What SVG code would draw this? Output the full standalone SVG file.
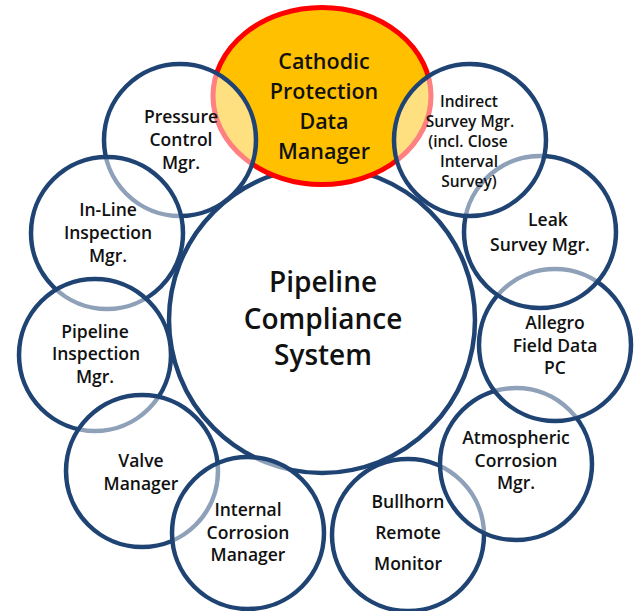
<svg xmlns="http://www.w3.org/2000/svg" width="636" height="611" viewBox="0 0 636 611">
<style>
.sat{fill:#FFFFFF;fill-opacity:0.5;stroke:#1F4373;stroke-width:4.5}
.hub{fill:#FFFFFF;stroke:#1F4373;stroke-width:4.5}
.cp{fill:#FFC000;stroke:#FF0000;stroke-width:5}
text{font-family:"Open Sans","DejaVu Sans",sans-serif;font-weight:600;fill:#111111;text-anchor:middle}
.s{font-size:17.5px}
.si{font-size:15.5px}
.c{font-size:21.5px}
.h{font-size:28px}
</style>
<rect width="636" height="611" fill="#FFFFFF"/>
<g id="pipeline-compliance-system">
<circle class="hub" cx="322" cy="320" r="153"/>
<text class="h" x="323" y="292">Pipeline</text>
<text class="h" x="323" y="328.5">Compliance</text>
<text class="h" x="323" y="365">System</text>
</g>
<g id="cathodic-protection">
<ellipse class="cp" cx="322" cy="96" rx="109" ry="88.5"/>
<text class="c" x="324" y="69">Cathodic</text>
<text class="c" x="324" y="99">Protection</text>
<text class="c" x="324" y="129">Data</text>
<text class="c" x="324" y="159">Manager</text>
</g>
<g id="bullhorn">
<circle class="sat" cx="408" cy="535" r="76"/>
<text class="s" x="408" y="508">Bullhorn</text>
<text class="s" x="408" y="539">Remote</text>
<text class="s" x="408" y="570">Monitor</text>
</g>
<g id="atmospheric-corrosion">
<circle class="sat" cx="516" cy="464" r="76"/>
<text class="s" x="516" y="444">Atmospheric</text>
<text class="s" x="516" y="467">Corrosion</text>
<text class="s" x="516" y="489">Mgr.</text>
</g>
<g id="allegro">
<circle class="sat" cx="555" cy="345" r="76"/>
<text class="s" x="555" y="329">Allegro</text>
<text class="s" x="555" y="352">Field Data</text>
<text class="s" x="555" y="374">PC</text>
</g>
<g id="leak-survey">
<circle class="sat" cx="540" cy="232" r="76"/>
<text class="s" x="548" y="226">Leak</text>
<text class="s" x="540" y="251">Survey Mgr.</text>
</g>
<g id="indirect-survey">
<circle class="sat" cx="470" cy="140" r="76"/>
<text class="si" x="469" y="107">Indirect</text>
<text class="si" x="470" y="127">Survey Mgr.</text>
<text class="si" x="468" y="147">(incl. Close</text>
<text class="si" x="469" y="167">Interval</text>
<text class="si" x="469" y="187">Survey)</text>
</g>
<g id="pressure-control">
<circle class="sat" cx="180" cy="140" r="76"/>
<text class="s" x="181" y="123">Pressure</text>
<text class="s" x="181" y="146">Control</text>
<text class="s" x="181" y="169">Mgr.</text>
</g>
<g id="in-line-inspection">
<circle class="sat" cx="107" cy="233" r="76"/>
<text class="s" x="108" y="216">In-Line</text>
<text class="s" x="108" y="239">Inspection</text>
<text class="s" x="108" y="262">Mgr.</text>
</g>
<g id="pipeline-inspection">
<circle class="sat" cx="95" cy="355" r="76"/>
<text class="s" x="95" y="338">Pipeline</text>
<text class="s" x="96" y="360">Inspection</text>
<text class="s" x="95" y="383">Mgr.</text>
</g>
<g id="valve">
<circle class="sat" cx="142" cy="471" r="76"/>
<text class="s" x="141" y="467">Valve</text>
<text class="s" x="141" y="490">Manager</text>
</g>
<g id="internal-corrosion">
<circle class="sat" cx="248" cy="533" r="76"/>
<text class="s" x="248" y="516">Internal</text>
<text class="s" x="248" y="539">Corrosion</text>
<text class="s" x="248" y="561">Manager</text>
</g>
</svg>
